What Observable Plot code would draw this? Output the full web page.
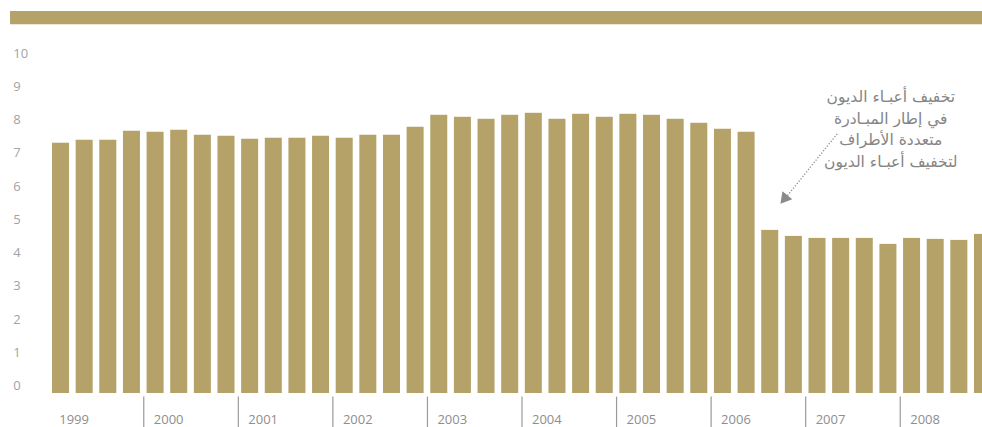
<!DOCTYPE html>
<html>
<head>
<meta charset="utf-8">
<script src="https://cdn.jsdelivr.net/npm/d3@7"></script>
<script src="https://cdn.jsdelivr.net/npm/@observablehq/plot@0.6"></script>
<style>
  html, body { margin: 0; padding: 0; background: #fff; overflow: hidden; width: 982px; }
  #band { margin: 11px 0 0 10px; height: 13px; background: #b4a269; border-bottom: 1px solid #ebe6d5; }
  #chart { width: 995px; }
  #chart svg { display: block; max-width: none !important; }
</style>
</head>
<body>
<div id="band"></div>
<div id="chart"></div>
<script>
// Quarterly series, 1999 Q1 – 2008 Q4
const years = [1999, 2000, 2001, 2002, 2003, 2004, 2005, 2006, 2007, 2008];
const values = [
  7.30, 7.39, 7.39, 7.66,   // 1999
  7.63, 7.69, 7.54, 7.51,   // 2000
  7.42, 7.45, 7.45, 7.51,   // 2001
  7.45, 7.54, 7.54, 7.78,   // 2002
  8.14, 8.08, 8.02, 8.14,   // 2003
  8.20, 8.02, 8.17, 8.08,   // 2004
  8.17, 8.14, 8.02, 7.90,   // 2005
  7.72, 7.63, 4.68, 4.50,   // 2006
  4.44, 4.44, 4.44, 4.26,   // 2007
  4.44, 4.41, 4.38, 4.56    // 2008
];
const yTicks = [0, 1, 2, 3, 4, 5, 6, 7, 8, 9, 10];
const separatorYears = years.slice(1);

// Note about the debt-relief initiative, with its pointer
const noteLines = [
  "تخفيف أعبـاء الديون",
  "في إطار المبـادرة",
  "متعددة الأطراف",
  "لتخفيف أعبـاء الديون"
];
const note = { x: 2007.9, y: 7.77 };
const pointer = { x1: 2007.333, y1: 7.58, x2: 2006.80, y2: 5.70 };
const pointerHead = { x: 2006.782, y: 5.65, angle: 219 };

const quarters = values.map((v, i) => ({ t: years[0] + i / 4, v }));

const gold = "#b4a269";

const chart = Plot.plot({
  width: 995,
  height: 402,
  marginLeft: 48.7,
  marginRight: 0.7,
  marginTop: 27.9,
  marginBottom: 41.4,
  style: { fontFamily: "'Open Sans', sans-serif", fontSize: "13px", background: "#fff", maxWidth: "none" },
  x: { domain: [1999, 2009], axis: null },
  y: { domain: [0, 10], axis: null },
  marks: [
    Plot.rectY(quarters, {
      x1: "t", x2: d => d.t + 0.25, y: "v",
      fill: gold, insetLeft: 3.32, insetRight: 3.32, insetBottom: -7.4
    }),
    Plot.axisY({
      ticks: yTicks, tickSize: 0, tickPadding: 36, textAnchor: "start",
      fill: "#a3a3a3", fontSize: 13
    }),
    Plot.axisX({
      ticks: separatorYears, tickSize: 31, dy: 11, tickFormat: () => "",
      stroke: "#9a9a9a", strokeWidth: 1.2
    }),
    Plot.axisX({
      ticks: years, tickSize: 0, tickPadding: 29, textAnchor: "start", dx: 10,
      tickFormat: d => String(d), fill: "#8e8e8e", fontSize: 13
    }),
    Plot.link([pointer], {
      x1: "x1", y1: "y1", x2: "x2", y2: "y2",
      stroke: "#8a8a8a", strokeWidth: 1.3, strokeDasharray: "1.2,1.8"
    }),
    Plot.dot([pointerHead], {
      x: "x", y: "y", symbol: "triangle", r: 4.7, rotate: "angle",
      fill: "#8a8a8a", stroke: "none"
    }),
    Plot.text([note], {
      x: "x", y: "y", text: () => noteLines.join("\n"),
      lineHeight: 1.38, fontSize: 15.5, fill: "#858585",
      fontFamily: "'DejaVu Sans', sans-serif", textAnchor: "middle"
    })
  ]
});

document.getElementById("chart").appendChild(chart);
</script>
</body>
</html>
